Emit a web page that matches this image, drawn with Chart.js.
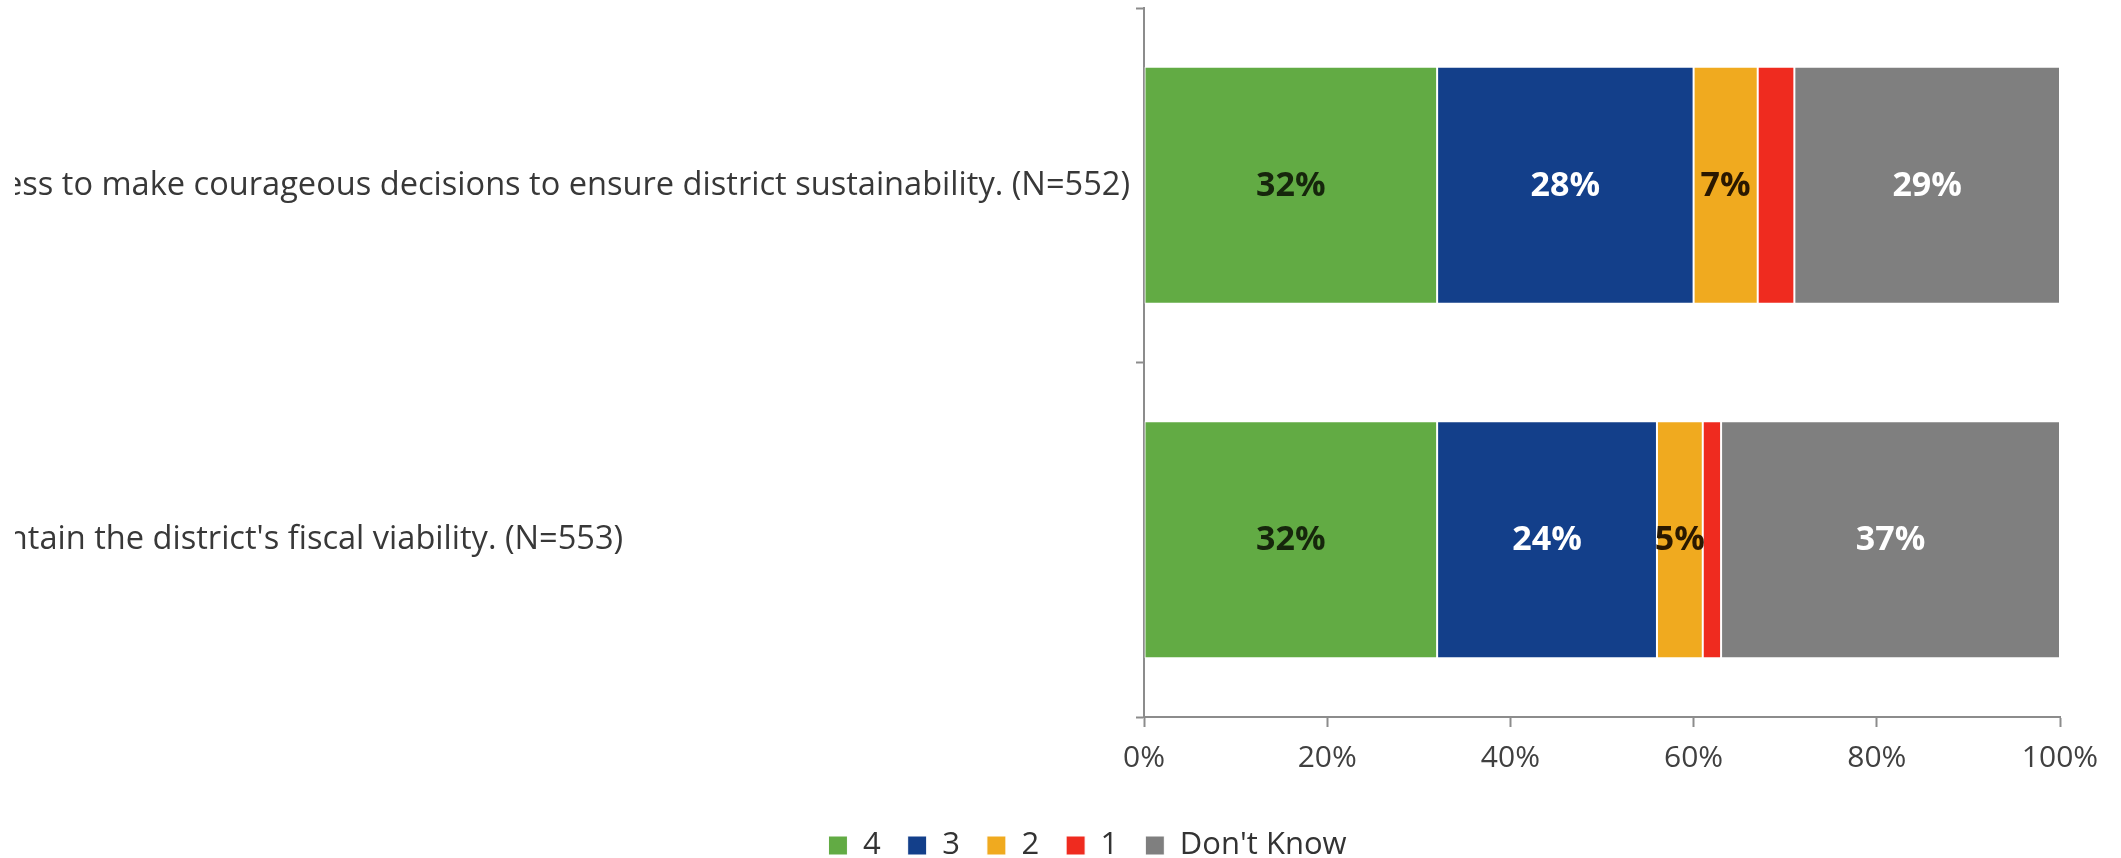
<!DOCTYPE html>
<html>
<head>
<meta charset="utf-8">
<script src="https://cdn.jsdelivr.net/npm/chart.js@4.4.1/dist/chart.umd.min.js"></script>
<style>
  html, body { margin: 0; padding: 0; background: #fff; overflow: hidden; }
  #wrap { position: absolute; left: 15px; top: 0; width: 2106px; height: 858px; }
</style>
</head>
<body>
<div id="wrap"><canvas id="chart" width="2106" height="858"></canvas></div>
<script>
// Survey statements (left part is cut off in the original picture)
const statements = [
    'The board demonstrates the willingness to make courageous decisions to ensure district sustainability. (N=552)',
    "Maintain the district's fiscal viability. (N=553)"
];

// Share of answers per rating, in percent
const rating4 = [32, 32];
const rating3 = [28, 24];
const rating2 = [7, 5];
const rating1 = [4, 2];
const dontKnow = [29, 37];

const seriesNames = ['4', '3', '2', '1', "Don't Know"];
const xTicks = [0, 20, 40, 60, 80, 100];

const FONT = "'Open Sans', 'Liberation Sans', sans-serif";

// draws the percentage inside each bar segment
const segmentLabels = {
    id: 'segmentLabels',
    afterDatasetsDraw(chart) {
        const ctx = chart.ctx;
        ctx.save();
        ctx.font = 'bold 34px ' + FONT;
        ctx.textAlign = 'center';
        ctx.textBaseline = 'middle';
        chart.data.datasets.forEach((ds, i) => {
            if (!ds.labelColor) return;
            chart.getDatasetMeta(i).data.forEach((bar, j) => {
                ctx.fillStyle = ds.labelColor;
                ctx.fillText(ds.data[j] + '%', (bar.x + bar.base) / 2, bar.y + 1);
            });
        });
        ctx.restore();
    }
};

// legend sits a bit right of the canvas centre in the original
const legendShift = {
    id: 'legendShift',
    afterLayout(chart) {
        chart.legend.left += 50;
        chart.legend.right += 50;
    }
};

const makeSet = (label, data, color, labelColor) => ({
    label,
    data,
    backgroundColor: color,
    borderColor: '#ffffff',
    borderWidth: 1,
    borderSkipped: false,
    labelColor,
    barPercentage: 0.668,
    categoryPercentage: 1
});

new Chart(document.getElementById('chart').getContext('2d'), {
    type: 'bar',
    data: {
        labels: statements,
        datasets: [
            makeSet(seriesNames[0], rating4, '#62ab44', '#16260c'),
            makeSet(seriesNames[1], rating3, '#133f8a', '#ffffff'),
            makeSet(seriesNames[2], rating2, '#f0aa1f', '#2a1800'),
            makeSet(seriesNames[3], rating1, '#ef2b1f', null),
            makeSet(seriesNames[4], dontKnow, '#7f7f7f', '#ffffff')
        ]
    },
    options: {
        indexAxis: 'y',
        responsive: false,
        animation: false,
        layout: {
            padding: { top: 8, right: 61, bottom: -13, left: 0 }
        },
        plugins: {
            legend: {
                position: 'bottom',
                labels: {
                    font: { family: FONT, size: 31 },
                    color: '#333333',
                    boxWidth: 19,
                    boxHeight: 19,
                    padding: 27
                }
            },
            tooltip: { enabled: false }
        },
        scales: {
            x: {
                stacked: true,
                min: 0,
                max: 100,
                afterBuildTicks: scale => {
                    scale.ticks = xTicks.map(v => ({ value: v }));
                },
                afterFit: scale => { scale.height = 86; },
                border: { color: '#8c8c8c', width: 2 },
                grid: {
                    drawOnChartArea: false,
                    drawTicks: true,
                    tickLength: 10,
                    tickColor: '#8c8c8c',
                    tickWidth: 2
                },
                ticks: {
                    padding: 13,
                    color: '#404040',
                    font: { family: FONT, size: 30 },
                    callback: value => value + '%'
                }
            },
            y: {
                stacked: true,
                afterFit: scale => {
                    scale.width = 1129;
                    scale.paddingTop = 0;
                    scale.paddingBottom = 0;
                },
                border: { color: '#8c8c8c', width: 2 },
                grid: {
                    drawOnChartArea: false,
                    drawTicks: true,
                    tickLength: 8,
                    tickColor: '#8c8c8c',
                    tickWidth: 2
                },
                ticks: {
                    padding: 6,
                    crossAlign: 'center',
                    color: '#383838',
                    font: { family: FONT, size: 32.6 }
                }
            }
        }
    },
    plugins: [segmentLabels, legendShift]
});
</script>
</body>
</html>
